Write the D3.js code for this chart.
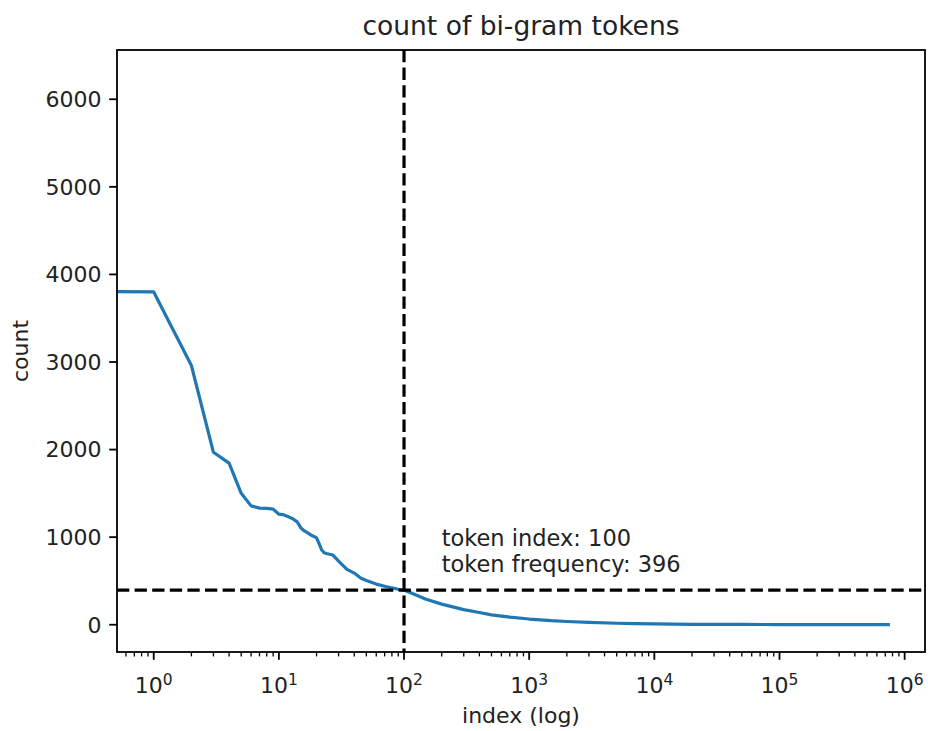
<!DOCTYPE html>
<html>
<head>
<meta charset="utf-8">
<script src="https://cdn.jsdelivr.net/npm/d3@7"></script>
<style>
  html, body { margin: 0; padding: 0; background: #fff; }
  svg { display: block; }
  text { font-family: "DejaVu Sans", sans-serif; fill: #222; }
</style>
</head>
<body>
<script>
// ---- data ----
const tokenIndex = [0,1,2,3,4,5,6,7,8,9,10,11,12,13,14,15,16,17,18,19,20,21,22,23,24,25,26,27,28,29,30,32,35,40,45,50,60,70,80,90,100,150,200,300,400,500,700,1000,1500,2000,3000,5000,7000,10000,20000,50000,100000,200000,400000,740000];
const tokenCount = [6250,3800,2960,1969,1845,1500,1357,1331,1329,1320,1262,1254,1231,1208,1174,1105,1071,1048,1025,1008,991,922,853,822,813,807,802,796,773,750,727,687,632,590,533,504,464,440,420,405,396,290,235,172,140,113,87,65,46,37,27,17,13,9,5,3,2,1,1,1];
const yTicks = [0,1000,2000,3000,4000,5000,6000];
const xTicks = [1,10,100,1000,10000,100000,1000000];
const markIndex = 100;
const markFreq = 396;
const titleText = "count of bi-gram tokens";
const xLabel = "index (log)";
const yLabel = "count";
const annotLines = ["token index: " + markIndex, "token frequency: " + markFreq];
const annotPos = [200, 600];

// ---- layout ----
const W = 928, H = 731;
const L = 117, R = 925, T = 50, B = 652;

const svg = d3.select("body").append("svg").attr("width", W).attr("height", H);

// matplotlib-like 5% margins
const posIdx = tokenIndex.filter(d => d > 0);
const lmin = Math.log10(d3.min(posIdx)), lmax = Math.log10(d3.max(posIdx));
const lr = lmax - lmin;
const x = d3.scaleLog().domain([Math.pow(10, lmin - 0.05 * lr), Math.pow(10, lmax + 0.05 * lr)]).range([L, R]);
const ymin = d3.min(tokenCount), ymax = d3.max(tokenCount), yr = ymax - ymin;
const y = d3.scaleLinear().domain([ymin - 0.05 * yr, ymax + 0.05 * yr]).range([B, T]);

svg.append("defs").append("clipPath").attr("id", "clip")
  .append("rect").attr("x", L).attr("y", T).attr("width", R - L).attr("height", B - T);

const data = tokenIndex.map((d, i) => ({i: d, c: tokenCount[i]}));
const xPos = d => x(Math.max(d, 1e-300));

const g = svg.append("g").attr("clip-path", "url(#clip)");
g.append("path").datum(data)
  .attr("d", d3.line().x(d => xPos(d.i)).y(d => y(d.c)))
  .attr("fill", "none").attr("stroke", "#1f77b4").attr("stroke-width", 3.2)
  .attr("stroke-linejoin", "round").attr("stroke-linecap", "square");

// dashed reference lines
g.append("line").attr("x1", x(markIndex)).attr("x2", x(markIndex)).attr("y1", T).attr("y2", B)
  .attr("stroke", "#000").attr("stroke-width", 3.2).attr("stroke-dasharray", "12.3,5.3");
g.append("line").attr("x1", L).attr("x2", R).attr("y1", y(markFreq)).attr("y2", y(markFreq))
  .attr("stroke", "#000").attr("stroke-width", 3.2).attr("stroke-dasharray", "12.3,5.3");

// annotation
const at = svg.append("text").attr("x", x(annotPos[0])).attr("y", y(annotPos[1])).style("font-size", "22.5px");
annotLines.forEach((t, k) => {
  at.append("tspan").attr("x", x(annotPos[0])).attr("y", y(annotPos[1]) - (annotLines.length - 1 - k) * 26.5).text(t);
});

// frame
svg.append("rect").attr("x", L).attr("y", T).attr("width", R - L).attr("height", B - T)
  .attr("fill", "none").attr("stroke", "#000").attr("stroke-width", 1.8);

// y axis
const yAxis = svg.append("g");
yTicks.forEach(v => {
  yAxis.append("line").attr("x1", L - 7.8).attr("x2", L).attr("y1", y(v)).attr("y2", y(v))
    .attr("stroke", "#000").attr("stroke-width", 1.8);
  yAxis.append("text").attr("x", L - 15.5).attr("y", y(v)).attr("dy", "0.36em")
    .attr("text-anchor", "end").style("font-size", "22px").text(v);
});

// x axis major ticks
const xAxis = svg.append("g");
const [d0, d1] = x.domain();
xTicks.forEach((v, k) => {
  xAxis.append("line").attr("x1", x(v)).attr("x2", x(v)).attr("y1", B).attr("y2", B + 7.8)
    .attr("stroke", "#000").attr("stroke-width", 1.8);
  const t = xAxis.append("text").attr("x", x(v)).attr("y", B + 40.5)
    .attr("text-anchor", "middle").style("font-size", "22px");
  t.append("tspan").text("10");
  t.append("tspan").attr("dy", -8).style("font-size", "15.5px").text(String(Math.round(Math.log10(v))));
});
// minor ticks
for (let e = -1; e <= 6; e++) {
  for (let m = 2; m <= 9; m++) {
    const v = m * Math.pow(10, e);
    if (v < d0 || v > d1) continue;
    xAxis.append("line").attr("x1", x(v)).attr("x2", x(v)).attr("y1", B).attr("y2", B + 4.4)
      .attr("stroke", "#000").attr("stroke-width", 1.3);
  }
}

// labels
svg.append("text").attr("x", (L + R) / 2).attr("y", 35).attr("text-anchor", "middle")
  .style("font-size", "26.5px").text(titleText);
svg.append("text").attr("x", (L + R) / 2).attr("y", 723).attr("text-anchor", "middle")
  .style("font-size", "22px").text(xLabel);
svg.append("text").attr("transform", `translate(28,${(T + B) / 2}) rotate(-90)`)
  .attr("text-anchor", "middle").style("font-size", "22px").text(yLabel);
</script>
</body>
</html>
